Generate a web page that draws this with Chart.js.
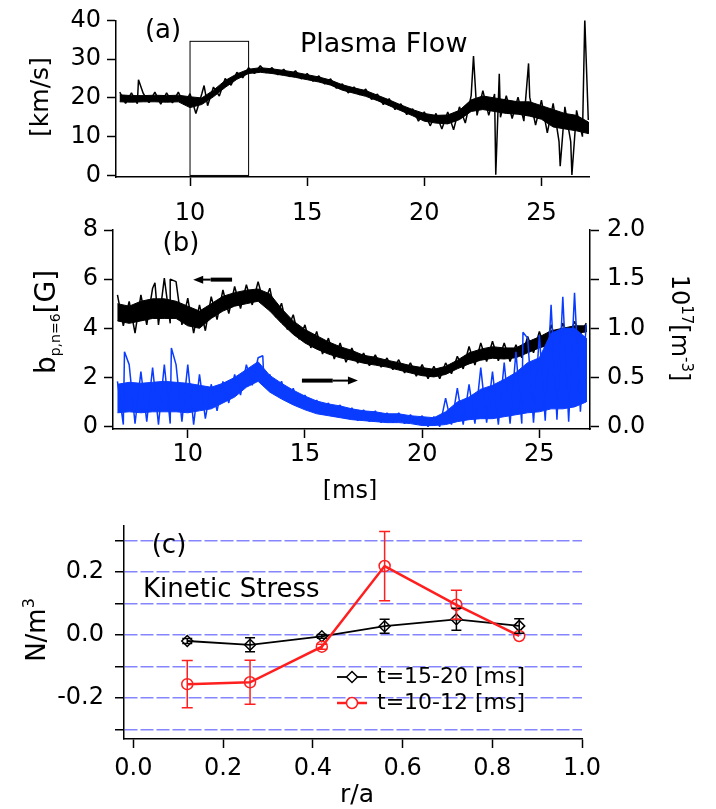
<!DOCTYPE html>
<html>
<head>
<meta charset="utf-8">
<script src="https://cdn.jsdelivr.net/npm/chart.js@4.4.1/dist/chart.umd.min.js"></script>
<style>
  html, body { margin: 0; padding: 0; background: #fff; }
  #wrap { position: relative; width: 716px; height: 809px; overflow: hidden; }
  canvas { position: absolute; left: 0; }
</style>
</head>
<body>
<div id="wrap">
  <canvas id="flow" width="716" height="225" style="top:0px"></canvas>
  <canvas id="mode" width="716" height="300" style="top:200px"></canvas>
  <canvas id="stress" width="716" height="309" style="top:500px"></canvas>
</div>
<script>
const FONT = '"DejaVu Sans", sans-serif';
Chart.defaults.font.family = FONT;
Chart.defaults.font.size = 24;
Chart.defaults.color = '#000';

// time grid [ms]. For each trace: extreme upper edge read at these times,
// extreme lower edge read a quarter ms later, and the dense core (top/bottom) at these times
const tGrid = [7, 7.5, 8, 8.5, 9, 9.5, 10, 10.5, 11, 11.5, 12, 12.5, 13, 13.5, 14, 14.5,
  15, 15.5, 16, 16.5, 17, 17.5, 18, 18.5, 19, 19.5, 20, 20.5, 21, 21.5, 22, 22.5,
  23, 23.5, 24, 24.5, 25, 25.5, 26, 26.5, 27];

// (a) plasma flow [km/s]
const flowHi = [21.5, 21.3, 21.2, 21.5, 21.3, 21.5, 21.1, 21.0, 22.8, 25.0, 26.6, 27.8, 28.3, 27.8,
  27.4, 27.0, 26.3, 25.7, 24.9, 23.6, 22.8, 22.3, 21.0, 19.8, 18.5, 17.2, 16.4, 16.0, 16.4, 17.7,
  20.6, 21.9, 21.0, 20.6, 20.2, 20.2, 19.4, 18.6, 17.7, 16.8, 14.3];
const flowLo = [18.6, 18.5, 18.8, 18.4, 18.7, 18.3, 16.0, 18.0, 20.5, 23.3, 25.2, 26.3, 26.5, 26.0,
  25.5, 24.9, 24.3, 23.6, 22.5, 21.3, 20.8, 19.6, 18.3, 17.0, 15.7, 14.0, 12.8, 12.0, 11.8, 13.5,
  15.5, 15.5, 15.0, 14.7, 14.0, 13.0, 11.0, 8.8, 8.7, 10.0];
const flowCoreTop = [20.8, 20.6, 20.6, 20.7, 20.6, 20.7, 20.3, 20.0, 22.0, 24.5, 26.2, 27.4, 27.8, 27.5,
  27.1, 26.6, 26.0, 25.4, 24.6, 23.4, 22.6, 21.9, 20.7, 19.5, 18.2, 17.0, 16.0, 15.5, 15.6, 16.8,
  19.5, 20.5, 20.0, 19.5, 19.0, 19.0, 18.0, 17.0, 16.0, 15.5, 13.8];
const flowCoreBot = [19.0, 18.9, 19.0, 19.0, 18.9, 19.0, 17.5, 18.3, 20.3, 22.7, 24.8, 26.3, 26.6, 26.3,
  25.8, 25.3, 24.7, 24.1, 23.3, 22.0, 21.2, 20.4, 19.3, 18.0, 16.7, 15.4, 14.0, 13.5, 13.3, 14.4,
  16.5, 17.0, 16.5, 16.0, 15.8, 15.3, 14.5, 12.5, 12.0, 11.5, 10.8];
const flowSpikes = [[7.8, 24.7], [10.6, 23.2], [22.1, 30.8], [23.05, 0.2], [23.2, 26.2],
  [24.45, 28.9], [25.8, 2.4], [26.3, 0.1], [26.85, 40.4]];
const boxTimes = [10, 12.5];
const boxTop = 34.6;

// (b) b_p,n=6 [G] (left axis)
const modeHi = [5.36, 5.09, 5.36, 5.63, 6.04, 5.9, 5.23, 4.95, 5.29, 5.56, 5.7, 5.77, 5.9, 5.63,
  5.02, 4.55, 4.14, 3.87, 3.6, 3.4, 3.2, 2.99, 2.92, 2.79, 2.72, 2.59, 2.52, 2.45, 2.59, 2.86,
  3.26, 3.4, 3.47, 3.4, 3.33, 3.67, 3.87, 4.14, 4.21, 4.28, 4.21];
const modeLo = [4.1, 3.8, 4.14, 4.14, 4.2, 4.14, 3.8, 3.9, 4.35, 4.6, 4.8, 4.95, 5.0, 4.45,
  3.95, 3.55, 3.2, 2.95, 2.75, 2.62, 2.58, 2.48, 2.42, 2.32, 2.18, 2.05, 1.95, 1.95, 2.15, 2.35,
  2.5, 2.65, 2.68, 2.65, 2.8, 3.0, 3.15, 3.35, 3.6, 3.75];
const modeCoreTop = [5.0, 4.9, 5.1, 5.2, 5.2, 5.1, 4.9, 4.7, 5.0, 5.3, 5.45, 5.55, 5.6, 5.4,
  4.8, 4.3, 3.95, 3.7, 3.45, 3.25, 3.1, 2.9, 2.82, 2.7, 2.6, 2.48, 2.4, 2.33, 2.45, 2.7,
  3.0, 3.15, 3.25, 3.2, 3.2, 3.45, 3.65, 3.9, 4.0, 4.1, 4.1];
const modeCoreBot = [4.3, 4.2, 4.3, 4.4, 4.4, 4.4, 4.1, 4.0, 4.4, 4.7, 4.9, 5.0, 5.1, 4.7,
  4.2, 3.75, 3.4, 3.15, 2.95, 2.8, 2.7, 2.58, 2.5, 2.42, 2.3, 2.18, 2.07, 2.02, 2.12, 2.35,
  2.55, 2.7, 2.78, 2.75, 2.8, 3.0, 3.2, 3.35, 3.6, 3.8, 3.85];
const modeSpikes = [[8.6, 5.85], [9.25, 6.0]];

// (b) density 10^17 m^-3 (right axis)
const densHi = [0.46, 0.63, 0.56, 0.60, 0.63, 0.63, 0.63, 0.53, 0.43, 0.46, 0.53, 0.63, 0.70, 0.53,
  0.46, 0.39, 0.32, 0.27, 0.24, 0.22, 0.19, 0.17, 0.16, 0.14, 0.14, 0.12, 0.11, 0.10, 0.29, 0.39,
  0.43, 0.60, 0.56, 0.65, 0.76, 0.90, 0.93, 1.24, 1.32, 1.36, 1.04];
const densLo = [0.02, 0.03, 0.05, 0.02, 0.03, 0.05, 0.02, 0.08, 0.16, 0.24, 0.32, 0.42, 0.46, 0.33,
  0.26, 0.20, 0.16, 0.12, 0.10, 0.08, 0.06, 0.05, 0.04, 0.04, 0.03, 0.02, 0.0, 0.0, 0.02, 0.02,
  0.03, 0.04, 0.02, 0.03, 0.03, 0.04, 0.06, 0.07, 0.05, 0.15];
const densCoreTop = [0.43, 0.45, 0.44, 0.45, 0.46, 0.45, 0.44, 0.42, 0.40, 0.44, 0.50, 0.58, 0.66, 0.52,
  0.44, 0.37, 0.31, 0.26, 0.23, 0.21, 0.18, 0.16, 0.15, 0.13, 0.13, 0.11, 0.10, 0.09, 0.15, 0.25,
  0.30, 0.38, 0.42, 0.48, 0.55, 0.65, 0.70, 0.95, 1.00, 1.00, 0.90];
const densCoreBot = [0.14, 0.15, 0.14, 0.15, 0.15, 0.15, 0.14, 0.16, 0.18, 0.24, 0.30, 0.40, 0.46, 0.35,
  0.28, 0.22, 0.17, 0.13, 0.11, 0.09, 0.07, 0.06, 0.05, 0.04, 0.04, 0.03, 0.01, 0.01, 0.02, 0.05,
  0.07, 0.08, 0.08, 0.10, 0.12, 0.14, 0.15, 0.18, 0.18, 0.20, 0.25];
const densSpikes = [[7.3, 0.76], [9.3, 0.80], [13.2, 0.72], [24.3, 0.96]];

// (c) kinetic stress [N/m^3] vs r/a
const rPos = [0.12, 0.26, 0.42, 0.56, 0.72, 0.86];
const stressLate = [-0.019, -0.031, -0.004, 0.028, 0.05, 0.029];
const stressLateErr = [0.008, 0.022, 0.006, 0.022, 0.035, 0.023];
const stressEarly = [-0.156, -0.15, -0.037, 0.219, 0.096, -0.003];
const stressEarlyErr = [0.075, 0.07, 0.008, 0.11, 0.046, 0];

const BLUE = '#0a3cff';
const RED = '#ff1f1f';
const GRIDBLUE = '#8585ff';

// extreme edges joined in time order, spikes included
function trace(hi, lo, spikes) {
  const pts = [];
  tGrid.forEach((t, i) => pts.push({x: t, y: hi[i]}));
  lo.forEach((v, i) => pts.push({x: tGrid[i] + 0.25, y: v}));
  spikes.forEach(([t, v]) => pts.push({x: t, y: v}));
  return pts.sort((a, b) => a.x - b.x);
}

// closed outline of the dense core: top forward, bottom back
function core(top, bot) {
  const pts = tGrid.map((t, i) => ({x: t, y: top[i]}));
  for (let i = bot.length - 1; i >= 0; i--) pts.push({x: tGrid[i], y: bot[i]});
  return pts;
}

function traceSets(hi, lo, spikes, top, bot, color, axis, order) {
  return [
    {
      data: trace(hi, lo, spikes), borderColor: color, borderWidth: 1.5,
      pointRadius: 0, tension: 0, borderJoinStyle: 'bevel', yAxisID: axis, fill: false, order: order
    },
    {
      data: core(top, bot), borderColor: color, backgroundColor: color, borderWidth: 1,
      pointRadius: 0, tension: 0, yAxisID: axis, fill: 'shape', order: order + 0.5
    }
  ];
}

function axis(min, max, step, size, extra) {
  const a = {
    type: 'linear', min: min, max: max,
    ticks: { stepSize: step, includeBounds: false, padding: 6, font: { size: 24 } },
    grid: { drawOnChartArea: false, tickLength: 9, tickColor: '#000', tickWidth: 1.5 },
    border: { color: '#000', width: 1.5 },
    afterFit: s => { if (s.isHorizontal()) s.height = size; else s.width = size; }
  };
  return Object.assign(a, extra || {});
}

function txt(ctx, s, x, y, size, align, base) {
  ctx.font = size + 'px ' + FONT;
  ctx.textAlign = align || 'center';
  ctx.textBaseline = base || 'middle';
  ctx.fillStyle = '#000';
  ctx.fillText(s, x, y);
}

// text made of parts [string, size, baseline shift], centred on (x, y) along its direction
function rich(ctx, x, y, angle, parts) {
  ctx.save();
  ctx.translate(x, y);
  ctx.rotate(angle);
  let total = 0;
  parts.forEach(p => { ctx.font = p[1] + 'px ' + FONT; total += ctx.measureText(p[0]).width; });
  let cx = -total / 2;
  ctx.textAlign = 'left';
  ctx.textBaseline = 'alphabetic';
  ctx.fillStyle = '#000';
  parts.forEach(p => {
    ctx.font = p[1] + 'px ' + FONT;
    ctx.fillText(p[0], cx, p[2] || 0);
    cx += ctx.measureText(p[0]).width;
  });
  ctx.restore();
}

function arrow(ctx, x0, x1, y) {
  const dir = Math.sign(x1 - x0);
  const xm = x0 + (x1 - x0) * 0.55;
  ctx.save();
  ctx.strokeStyle = '#000';
  ctx.fillStyle = '#000';
  ctx.lineWidth = 4;
  ctx.beginPath(); ctx.moveTo(x0, y); ctx.lineTo(xm, y); ctx.stroke();
  ctx.lineWidth = 2;
  ctx.beginPath(); ctx.moveTo(xm, y); ctx.lineTo(x1 - dir * 6, y); ctx.stroke();
  ctx.beginPath();
  ctx.moveTo(x1, y); ctx.lineTo(x1 - dir * 10, y - 4); ctx.lineTo(x1 - dir * 10, y + 4);
  ctx.closePath(); ctx.fill();
  ctx.restore();
}

const base = {
  responsive: false, animation: false, events: [],
  plugins: { legend: { display: false }, tooltip: { enabled: false } }
};

// ---------- (a) plasma flow
new Chart(document.getElementById('flow'), {
  type: 'line',
  data: { datasets: traceSets(flowHi, flowLo, flowSpikes, flowCoreTop, flowCoreBot, '#000', 'y', 1) },
  options: Object.assign({}, base, {
    layout: { padding: { top: 19, right: 127, left: 0, bottom: 0 } },
    scales: {
      x: axis(6.84, 27.03, 5, 48),
      y: axis(-0.4, 40, 10, 116)
    }
  }),
  plugins: [{
    id: 'flowDecor',
    beforeInit(chart) {
      chart.options.scales.x.ticks.padding = 13;
    },
    afterDraw(chart) {
      const {ctx, scales: {x, y}} = chart;
      ctx.save();
      ctx.strokeStyle = '#000';
      ctx.lineWidth = 1;
      const x0 = x.getPixelForValue(boxTimes[0]), x1 = x.getPixelForValue(boxTimes[1]);
      const y0 = y.getPixelForValue(0), y1 = y.getPixelForValue(boxTop);
      ctx.strokeRect(x0, y1, x1 - x0, y0 - y1);
      ctx.restore();
      txt(ctx, '(a)', 163, 31, 26);
      txt(ctx, 'Plasma Flow', 300, 52, 27, 'left', 'alphabetic');
      rich(ctx, 48, 97, -Math.PI / 2, [['[km/s]', 25, 0]]);
    }
  }]
});

// ---------- (b) mode amplitude and density
new Chart(document.getElementById('mode'), {
  type: 'line',
  data: {
    datasets: traceSets(densHi, densLo, densSpikes, densCoreTop, densCoreBot, BLUE, 'y2', 1)
      .concat(traceSets(modeHi, modeLo, modeSpikes, modeCoreTop, modeCoreBot, '#000', 'y', 3))
  },
  options: Object.assign({}, base, {
    layout: { padding: { top: 30, right: 0, left: 0, bottom: 0 } },
    scales: {
      x: axis(6.81, 27.16, 5, 71, {}),
      y: axis(-0.1, 8, 2, 113),
      y2: axis(-0.025, 2, 0.5, 126, { position: 'right' })
    }
  }),
  plugins: [{
    id: 'modeDecor',
    beforeInit(chart) {
      chart.options.scales.y2.ticks.callback = v => v.toFixed(1);
      chart.options.scales.y2.ticks.padding = 8;
      chart.options.scales.x.ticks.padding = 2;
    },
    afterDraw(chart) {
      const {ctx, scales: {x, y}} = chart;
      arrow(ctx, x.getPixelForValue(11.89), x.getPixelForValue(10.23), y.getPixelForValue(5.98));
      arrow(ctx, x.getPixelForValue(14.87), x.getPixelForValue(17.26), y.getPixelForValue(1.87));
      txt(ctx, '(b)', 181, 44, 26);
      txt(ctx, '[ms]', 350, 292, 24);
      rich(ctx, 55, 122, -Math.PI / 2, [['b', 28, 0], ['p,n=6', 14, 5], ['[G]', 28, 0]]);
      rich(ctx, 672, 128, Math.PI / 2, [['10', 24, 0], ['17', 15, -10], ['[m', 24, 0], ['-3', 15, -10], [']', 24, 0]]);
    }
  }]
});

// ---------- (c) kinetic stress profile
const errBars = [
  { values: stressLate, errs: stressLateErr, color: '#000', cap: 5 },
  { values: stressEarly, errs: stressEarlyErr, color: RED, cap: 5.5 }
];

new Chart(document.getElementById('stress'), {
  type: 'line',
  data: {
    labels: rPos,
    datasets: [
      {
        label: 't=15-20 [ms]', data: rPos.map((r, i) => ({x: r, y: stressLate[i]})),
        borderColor: '#000', borderWidth: 1.8, pointStyle: 'rectRot', pointRadius: 5.5,
        pointBorderWidth: 1.5, pointBorderColor: '#000', pointBackgroundColor: 'rgba(0,0,0,0)',
        order: 2
      },
      {
        label: 't=10-12 [ms]', data: rPos.map((r, i) => ({x: r, y: stressEarly[i]})),
        borderColor: RED, borderWidth: 2.5, pointStyle: 'circle', pointRadius: 5.5,
        pointBorderWidth: 1.5, pointBorderColor: RED, pointBackgroundColor: 'rgba(0,0,0,0)',
        order: 1
      }
    ]
  },
  options: Object.assign({}, base, {
    layout: { padding: { top: 22, right: 134, left: 0, bottom: 0 } },
    scales: {
      x: axis(-0.021, 1.0, 0.2, 70),
      y: axis(-0.33, 0.348, 0.1, 124)
    }
  }),
  plugins: [{
    id: 'stressDecor',
    beforeInit(chart) {
      const s = chart.options.scales;
      s.x.ticks.callback = v => v.toFixed(1);
      s.y.ticks.callback = v => {
        const k = Math.round(v * 10);
        return k % 2 === 0 ? (k === 0 ? '0.0' : (k / 10).toFixed(1)) : '';
      };
      s.y.ticks.padding = 11;
      s.y.grid.drawOnChartArea = true;
      s.y.grid.color = GRIDBLUE;
      s.y.grid.lineWidth = 1.5;
      s.y.border.dash = [13, 3];
    },
    afterDatasetsDraw(chart) {
      const {ctx, scales: {x, y}} = chart;
      ctx.save();
      errBars.forEach(eb => {
        ctx.strokeStyle = eb.color;
        ctx.lineWidth = 1.5;
        rPos.forEach((r, i) => {
          if (!eb.errs[i]) return;
          const px = x.getPixelForValue(r);
          const yt = y.getPixelForValue(eb.values[i] + eb.errs[i]);
          const yb = y.getPixelForValue(eb.values[i] - eb.errs[i]);
          ctx.beginPath();
          ctx.moveTo(px, yt); ctx.lineTo(px, yb);
          ctx.moveTo(px - eb.cap, yt); ctx.lineTo(px + eb.cap, yt);
          ctx.moveTo(px - eb.cap, yb); ctx.lineTo(px + eb.cap, yb);
          ctx.stroke();
        });
      });
      ctx.restore();
    },
    afterDraw(chart) {
      const {ctx} = chart;
      txt(ctx, '(c)', 169, 46, 26);
      txt(ctx, 'Kinetic Stress', 143, 97, 26, 'left', 'alphabetic');
      rich(ctx, 45, 130, -Math.PI / 2, [['N/m', 26, 0], ['3', 16, -11]]);
      txt(ctx, 'r/a', 357, 295, 25);
      // legend
      const rows = [[chart.data.datasets[0], 177], [chart.data.datasets[1], 203]];
      rows.forEach(([ds, ly]) => {
        ctx.save();
        ctx.strokeStyle = ds.borderColor;
        ctx.lineWidth = ds.borderWidth;
        ctx.beginPath(); ctx.moveTo(337, ly); ctx.lineTo(367, ly); ctx.stroke();
        ctx.lineWidth = 1.5;
        ctx.fillStyle = '#fff';
        ctx.beginPath();
        if (ds.pointStyle === 'rectRot') {
          ctx.moveTo(352, ly - 5.5); ctx.lineTo(357.5, ly); ctx.lineTo(352, ly + 5.5); ctx.lineTo(346.5, ly);
          ctx.closePath();
        } else {
          ctx.arc(352, ly, 5.5, 0, Math.PI * 2);
        }
        ctx.fill(); ctx.stroke();
        ctx.restore();
        txt(ctx, ds.label, 377, ly, 22, 'left', 'middle');
      });
    }
  }]
});
</script>
</body>
</html>
